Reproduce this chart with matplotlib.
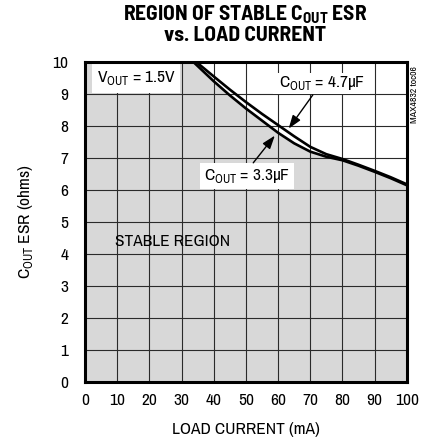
import matplotlib
matplotlib.use("Agg")
import matplotlib.pyplot as plt
from matplotlib.patches import Rectangle
import numpy as np

# Data
load_ma_33 = [33.7, 40, 45, 50, 55, 60, 65, 70, 75, 80, 85, 90, 95, 100]
esr_33 = [10.0, 9.40, 8.96, 8.55, 8.17, 7.79, 7.46, 7.20, 7.04, 6.93, 6.76, 6.57, 6.37, 6.15]
load_ma_47 = [34.6, 40, 45, 50, 55, 60, 65, 70, 75, 80, 85, 90, 95, 100]
esr_47 = [10.0, 9.55, 9.14, 8.75, 8.38, 8.03, 7.68, 7.35, 7.12, 6.97, 6.79, 6.60, 6.40, 6.18]
x_ticks = [0, 10, 20, 30, 40, 50, 60, 70, 80, 90, 100]
y_ticks = [0, 1, 2, 3, 4, 5, 6, 7, 8, 9, 10]

FONT = ["Archivo Narrow", "Liberation Sans", "DejaVu Sans"]
TITLE_FONT = ["Barlow Semi Condensed", "Barlow Condensed", "Archivo Narrow", "DejaVu Sans"]
plt.rcParams["font.family"] = FONT
plt.rcParams["mathtext.fontset"] = "custom"
plt.rcParams["mathtext.rm"] = "Archivo Narrow"
plt.rcParams["mathtext.bf"] = "Barlow Semi Condensed:bold"

FS = 12.5

fig = plt.figure(figsize=(4.25, 4.43), dpi=100)
ax = fig.add_axes([0.2, 0.1377, 0.757, 0.7223])
ax.set_xlim(0, 100)
ax.set_ylim(0, 10)

# stable region fill (under the 3.3uF curve)
fx = np.concatenate([[0], load_ma_33])
fy = np.concatenate([[10], esr_33])
ax.fill_between(fx, 0, fy, color="#d8d8d8", zorder=0, linewidth=0)

ax.set_xticks(x_ticks)
ax.set_yticks(y_ticks)
ax.grid(True, color="#2a2a2a", linewidth=0.8, zorder=1)
ax.set_axisbelow(True)
for s in ax.spines.values():
    s.set_linewidth(2.2)
    s.set_zorder(5)
ax.tick_params(length=0, labelsize=FS)
ax.tick_params(axis="x", pad=8)
ax.tick_params(axis="y", pad=12)

ax.plot(load_ma_33, esr_33, color="black", linewidth=1.9, zorder=3, solid_capstyle="butt")
ax.plot(load_ma_47, esr_47, color="black", linewidth=1.9, zorder=3, solid_capstyle="butt")

ax.set_xlabel("LOAD CURRENT (mA)", fontsize=FS)
ax.xaxis.set_label_coords(0.5, -0.125)
ax.set_ylabel(r"C$_{\mathrm{OUT}}$ ESR (ohms)", fontsize=FS)
ax.yaxis.set_label_coords(-0.155, 0.5)

fig.text(0.577, 0.966, r"REGION OF STABLE C$_{\mathbf{OUT}}$ ESR", ha="center", va="center",
         fontsize=15.5, fontweight="bold", family=TITLE_FONT)
fig.text(0.577, 0.919, "vs. LOAD CURRENT", ha="center", va="center",
         fontsize=15.5, fontweight="bold", family=TITLE_FONT)

# label boxes
ax.add_patch(Rectangle((2.2, 9.03), 27.3, 0.97, facecolor="white", edgecolor="none", zorder=4))
ax.text(15.9, 9.5, r"V$_{\mathrm{OUT}}$ = 1.5V", fontsize=FS, va="center", ha="center", zorder=6)
ax.text(9.3, 4.4, "STABLE REGION", fontsize=FS, va="center", ha="left", zorder=6)

ax.add_patch(Rectangle((58.4, 9.0), 30.2, 0.67, facecolor="white", edgecolor="none", zorder=4))
ax.text(73.6, 9.33, r"C$_{\mathrm{OUT}}$ = 4.7µF", fontsize=FS, va="center", ha="center", zorder=6)
ax.add_patch(Rectangle((35.8, 6.03), 29.2, 0.82, facecolor="white", edgecolor="none", zorder=4))
ax.text(50.4, 6.44, r"C$_{\mathrm{OUT}}$ = 3.3µF", fontsize=FS, va="center", ha="center", zorder=6)

arrow = dict(arrowstyle="-|>,head_length=0.8,head_width=0.28", color="black",
             linewidth=1.0, shrinkA=0, shrinkB=0)
ax.annotate("", xy=(63.3, 7.92), xytext=(70.8, 8.97), arrowprops=arrow, zorder=6)
ax.annotate("", xy=(59.0, 7.70), xytext=(52.3, 6.85), arrowprops=arrow, zorder=6)

fig.text(0.976, 0.786, "MAX4832 toc06", rotation=90, fontsize=7, ha="center", va="center")

fig.savefig("out.png", dpi=100)
